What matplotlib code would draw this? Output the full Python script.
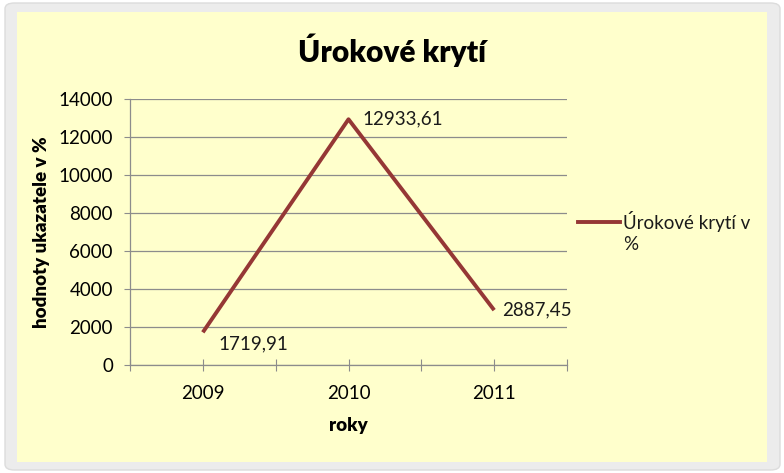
import matplotlib.pyplot as plt
from matplotlib.patches import FancyBboxPatch, Rectangle
from matplotlib.lines import Line2D

plt.rcParams['font.family'] = ['Lato', 'DejaVu Sans']

years = ['2009', '2010', '2011']
values = [1719.91, 12933.61, 2887.45]
value_labels = ['1719,91', '12933,61', '2887,45']
series_name = 'Úrokové krytí v\n%'
title = 'Úrokové krytí'

W, H = 784, 473
line_color = '#953735'

fig = plt.figure(figsize=(W / 100, H / 100), dpi=100, facecolor='white')

# frame + yellow chart area (pixel coords converted to figure fractions)
def box(x0, y0, x1, y1):
    return x0 / W, 1 - y1 / H, (x1 - x0) / W, (y1 - y0) / H

bx, by, bw, bh = box(5, 3, 780, 470)
fig.patches.append(FancyBboxPatch((bx, by), bw, bh, boxstyle='round,pad=0,rounding_size=0.012',
                                  transform=fig.transFigure, facecolor='#ECECEC',
                                  edgecolor='#DCDCDC', lw=1, zorder=-3))
bx, by, bw, bh = box(17, 12, 767, 462)
fig.patches.append(Rectangle((bx, by), bw, bh, transform=fig.transFigure,
                             facecolor='#FFFFCC', edgecolor='none', zorder=-2))

ax = fig.add_axes(box(130, 99, 567, 365))
ax.set_facecolor('none')

x = list(range(len(years)))
ax.plot(x, values, color=line_color, lw=2.8, solid_capstyle='butt')

offsets = [(11, -8), (10, 0), (6, 0)]
for xi, v, lab, off in zip(x, values, value_labels, offsets):
    ax.annotate(lab, (xi, v), xytext=off, textcoords='offset points',
                ha='left', va='center', fontsize=13.5, color='#1a1a1a')

ax.set_xlim(-0.5, len(years) - 0.5)
ax.set_ylim(0, 14000)
ax.set_yticks(range(0, 14001, 2000))
ax.yaxis.grid(True, color='#8c8c8c', lw=0.9)
ax.set_axisbelow(True)

ax.set_xticks(x)
ax.set_xticklabels(years)
ax.set_xticks([i - 0.5 for i in range(len(years) + 1)], minor=True)
ax.tick_params(axis='x', which='both', direction='inout', length=8.5, width=0.8,
               color='#8c8c8c', labelsize=13.5, pad=10)
ax.tick_params(axis='y', direction='out', length=4.3, width=0.8, color='#8c8c8c',
               labelsize=13.5, pad=8)

for s in ['top', 'right']:
    ax.spines[s].set_visible(False)
for s in ['left', 'bottom']:
    ax.spines[s].set_color('#8c8c8c')
    ax.spines[s].set_linewidth(0.9)

ax.set_xlabel('roky', fontsize=13.5, fontweight='heavy', labelpad=11)
ax.set_ylabel('hodnoty ukazatele v %', fontsize=13.5, fontweight='heavy', labelpad=6)

fig.text(392 / W, 1 - 50 / H, title, ha='center', va='center', fontsize=21.5,
         fontweight='heavy')

# legend
fig.lines.append(Line2D([578 / W, 620 / W], [1 - 222 / H, 1 - 222 / H],
                        transform=fig.transFigure, color=line_color, lw=2.8))
fig.text(623 / W, 1 - 211 / H, series_name, ha='left', va='top', fontsize=13.5,
         linespacing=1.25, color='#1a1a1a')

plt.savefig('out.png', dpi=100)
